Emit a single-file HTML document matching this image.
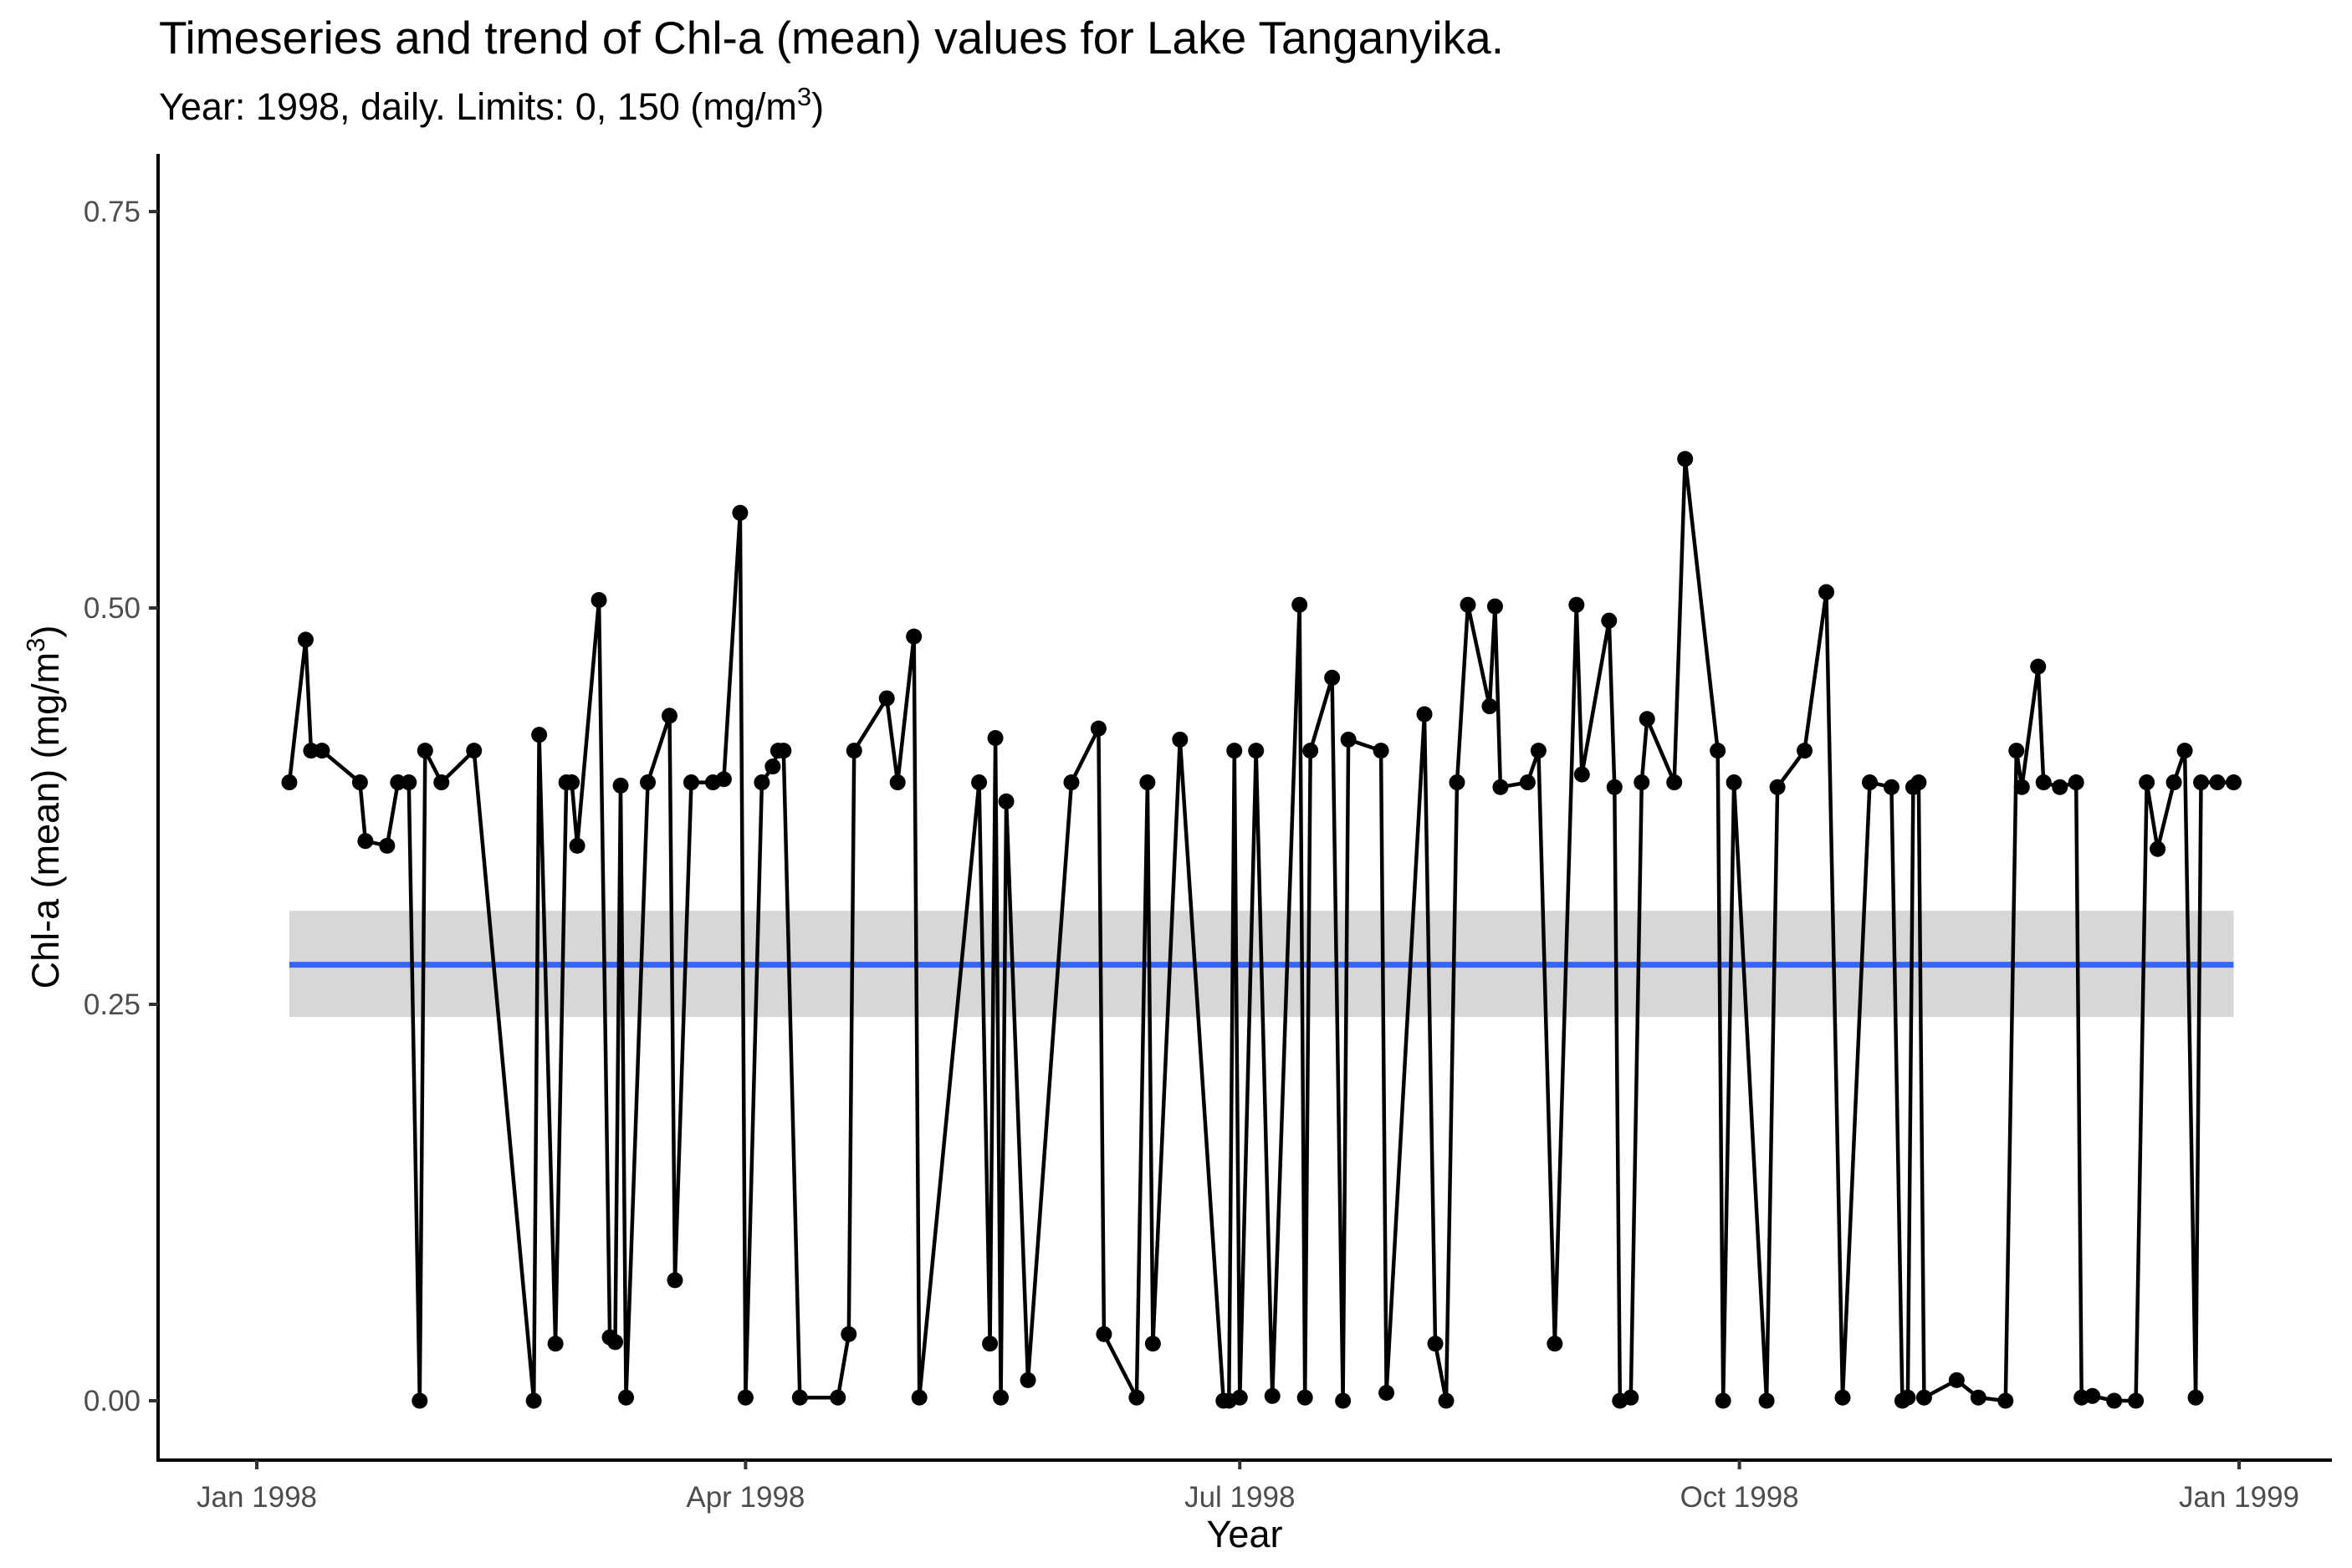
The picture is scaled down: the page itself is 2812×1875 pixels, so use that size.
<!DOCTYPE html>
<html><head><meta charset="utf-8"><style>
html,body{margin:0;padding:0;background:#fff;}
svg{display:block;font-family:"Liberation Sans",Arial,sans-serif;}
</style></head><body>
<svg id="chart" width="2812" height="1875" viewBox="0 0 2812 1875">
<text x="190" y="64" font-size="55" fill="#000">Timeseries  and trend of Chl-a (mean) values for Lake Tanganyika.</text>
<text x="190" y="143" font-size="45" fill="#000">Year: 1998, daily. Limits: 0, 150 (mg/m<tspan baseline-shift="super" font-size="31">3</tspan>)</text>
<g id="band"></g>
<g id="trend"></g>
<g id="series"></g>
<g id="axes"></g>
<text x="1488" y="1850" font-size="45" text-anchor="middle" fill="#000">Year</text>
<text transform="translate(70,965) rotate(-90)" font-size="45" text-anchor="middle" fill="#000">Chl-a (mean) (mg/m<tspan baseline-shift="super" font-size="31">3</tspan>)</text>
</svg>
<script>
const days = [6,9,10,12,19,20,24,26,28,30,31,34,40,51,52,55,57,58,59,63,65,66,67,68,72,76,77,80,84,86,89,90,93,95,96,97,100,107,109,110,116,118,121,122,133,135,136,137,138,142,150,155,156,162,164,165,170,178,179,180,181,184,187,192,193,194,198,200,201,207,208,215,217,219,221,223,227,228,229,234,236,239,243,244,249,250,251,253,255,256,261,263,269,270,272,278,280,285,289,292,297,301,303,304,305,306,307,313,317,322,324,325,328,329,332,335,336,338,342,346,348,350,353,355,357,358,361,364];
const values = [0.39,0.48,0.41,0.41,0.39,0.353,0.35,0.39,0.39,0.0,0.41,0.39,0.41,0.0,0.42,0.036,0.39,0.39,0.35,0.505,0.04,0.037,0.388,0.002,0.39,0.432,0.076,0.39,0.39,0.392,0.56,0.002,0.39,0.40,0.41,0.41,0.002,0.002,0.042,0.41,0.443,0.39,0.482,0.002,0.39,0.036,0.418,0.002,0.378,0.013,0.39,0.424,0.042,0.002,0.39,0.036,0.417,0.0,0.0,0.41,0.002,0.41,0.003,0.502,0.002,0.41,0.456,0.0,0.417,0.41,0.005,0.433,0.036,0.0,0.39,0.502,0.438,0.501,0.387,0.39,0.41,0.036,0.502,0.395,0.492,0.387,0.0,0.002,0.39,0.43,0.39,0.594,0.41,0.0,0.39,0.0,0.387,0.41,0.51,0.002,0.39,0.387,0.0,0.002,0.387,0.39,0.002,0.013,0.002,0.0,0.41,0.387,0.463,0.39,0.387,0.39,0.002,0.003,0.0,0.0,0.39,0.348,0.39,0.41,0.002,0.39,0.39,0.39];
const trendValue = [0.275];
const bandLow = [0.242];
const bandHigh = [0.309];
const trendRange = [6,364];
const yTicks = [0,0.25,0.5,0.75];
const yTickLabels = ["0.00","0.25","0.50","0.75"];
const xTickLabels = ["Jan 1998","Apr 1998","Jul 1998","Oct 1998","Jan 1999"];
const xTicksAll = [0,90,181,273,365];

const NS="http://www.w3.org/2000/svg";
function X(d){return 307+d*(2677-307)/365;}
function Y(v){return 1675-v*(1675-253)/0.75;}
function mk(tag,attrs,parent){const e=document.createElementNS(NS,tag);for(const k in attrs)e.setAttribute(k,attrs[k]);parent.appendChild(e);return e;}

const band=document.getElementById('band');
const r=mk('rect',{x:X(trendRange[0]),y:Y(bandHigh[0]),width:X(trendRange[1])-X(trendRange[0]),height:Y(bandLow[0])-Y(bandHigh[0]),fill:'#d7d7d7'},band);


const tl=mk('line',{x1:X(trendRange[0]),x2:X(trendRange[1]),y1:Y(trendValue[0]),y2:Y(trendValue[0]),stroke:'#3366FF','stroke-width':7},document.getElementById('trend'));



const s=document.getElementById('series');
const pts=days.map((d,i)=>X(d).toFixed(1)+','+Y(values[i]).toFixed(1)).join(' ');
const pl=mk('polyline',{points:pts,fill:'none',stroke:'#000','stroke-width':4.5,'stroke-linejoin':'round'},s);


days.forEach((d,i)=>{
  const c=mk('circle',{cx:X(d),cy:Y(values[i]),r:9.5,fill:'#000'},s);
  
  
});

const ax=document.getElementById('axes');
const yl=mk('line',{x1:189,x2:189,y1:184,y2:1748,stroke:'#000','stroke-width':4},ax);


const xl=mk('line',{x1:187,x2:2788,y1:1746,y2:1746,stroke:'#000','stroke-width':4},ax);


yTicks.forEach((v,i)=>{
  const t=mk('line',{x1:178,x2:189,y1:Y(v),y2:Y(v),stroke:'#333','stroke-width':4},ax);
  
  
  const l=mk('text',{x:168,y:Y(v)+12,'font-size':35,'text-anchor':'end',fill:'#4d4d4d'},ax);
  l.textContent=yTickLabels[i];
  
  
});
xTicksAll.forEach((d,i)=>{
  const t=mk('line',{x1:X(d),x2:X(d),y1:1746,y2:1757,stroke:'#333','stroke-width':4},ax);
  
  
  const l=mk('text',{x:X(d),y:1802,'font-size':35,'text-anchor':'middle',fill:'#4d4d4d'},ax);
  l.textContent=xTickLabels[i];
  
  
});
</script>
</body></html>
